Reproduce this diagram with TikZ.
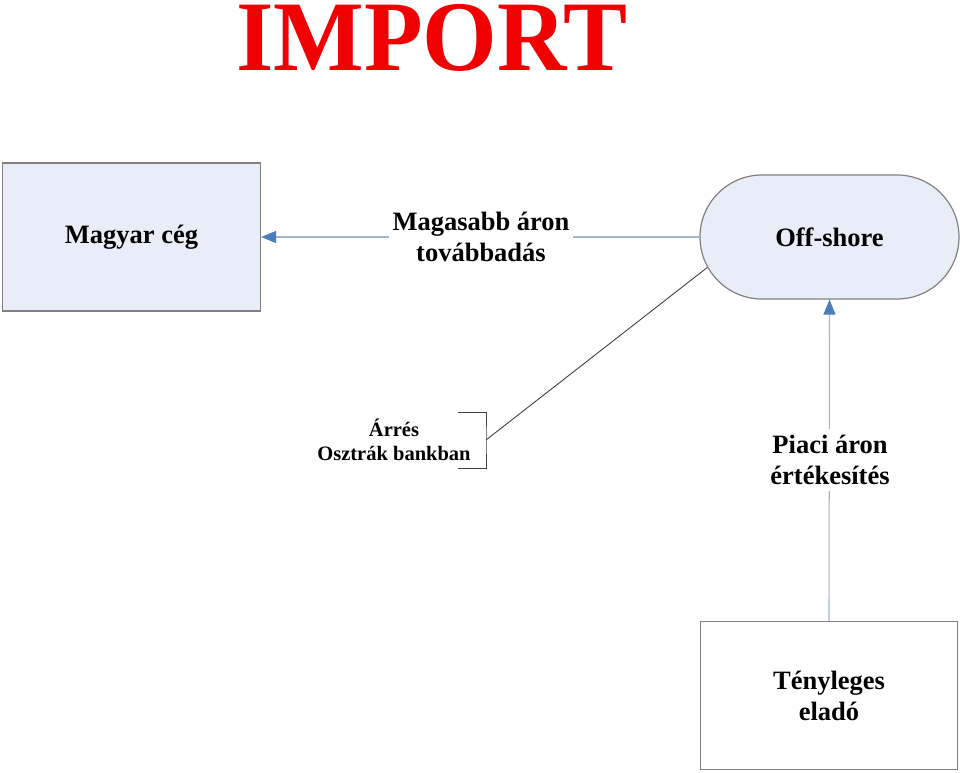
\documentclass[tikz,border=0pt]{standalone}
\usepackage{fontspec}
\setmainfont{Liberation Serif}
\usetikzlibrary{arrows.meta,shapes.misc}
\definecolor{boxfill}{HTML}{E8EDF7}
\definecolor{boxline}{HTML}{808080}
\definecolor{conline}{HTML}{A3B6CC}
\definecolor{tipblue}{HTML}{4A7EBB}
\definecolor{titlered}{HTML}{F00000}
\tikzset{
  txt/.style={font=\fontsize{26.5}{31}\selectfont\bfseries, align=center, inner sep=2pt},
  smalltxt/.style={font=\fontsize{20.5}{24}\selectfont\bfseries, align=center, inner sep=1pt},
  entity/.style={draw=boxline, line width=1.2pt, fill=boxfill},
  flow/.style={draw=conline, line width=1.1pt, -{Triangle[length=15pt,width=12pt,fill=tipblue,color=tipblue]}},
  lbl/.style={txt, fill=white, inner sep=4pt},
}
\begin{document}
\begin{tikzpicture}[x=1pt,y=-1pt]
\useasboundingbox (0,0) rectangle (960,772);
% title
\node[text=titlered, font=\fontsize{96}{100}\selectfont\bfseries, anchor=base, inner sep=0pt] (title) at (432,70) {\scalebox{1}[1.04]{IMPORT}};
% entities
\node[entity, minimum width=258pt, minimum height=148pt, txt] (mag) at (131.5,237) {Magyar cég};
\node[entity, rounded rectangle, minimum width=263pt, minimum height=124pt, txt] (off) at (829.5,237) {Off-shore};
\node[draw=boxline, line width=1.2pt, fill=white, minimum width=257pt, minimum height=148pt, txt] (ten) at (829,695.5) {Tényleges\\eladó};
% flows
\draw[flow] (off.west) -- (mag.east);
\node[lbl] (magl) at (481,237) {Magasabb áron\\továbbadás};
\draw[flow] (ten.north) -- (off.south);
\node[lbl, inner sep=6pt] (piac) at (830,460) {Piaci áron\\értékesítés};
% annotation
\node[smalltxt] (arr) at (394,440) {Árrés\\Osztrák bankban};
\coordinate (br) at (486,440);
\draw[black!75, line width=0.9pt] (458,412) -- (486,412) -- (br) -- (486,468) -- (458,468);
\draw[black!75, line width=0.9pt] (br) -- (off.194);
\end{tikzpicture}
\end{document}
